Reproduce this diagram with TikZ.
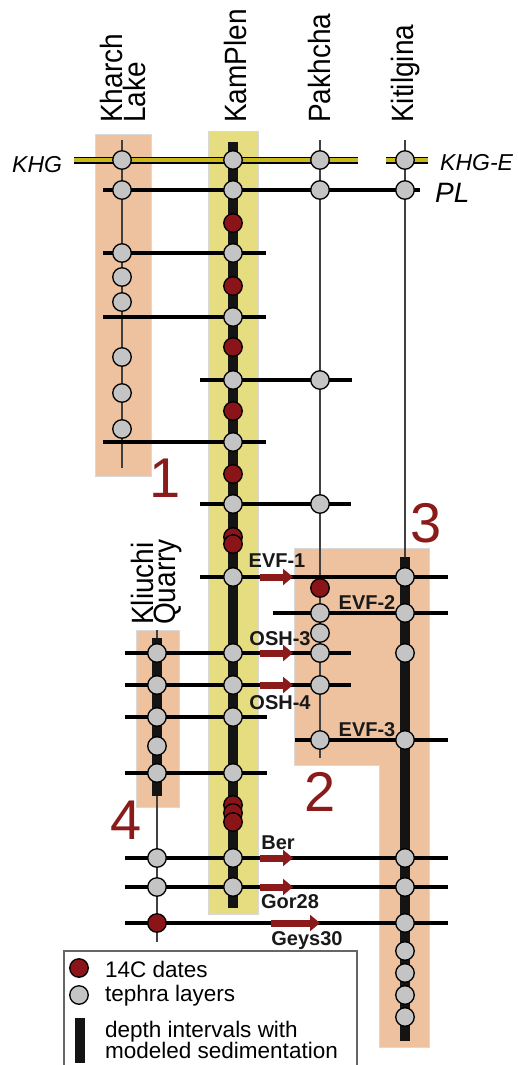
\documentclass[tikz,border=0pt]{standalone}
\usepackage{fontspec}
\setmainfont{Liberation Sans}
\usepackage{graphicx}
\usetikzlibrary{arrows.meta}
\definecolor{salmon}{HTML}{EEC29E}
\definecolor{ylw}{HTML}{E5DD80}
\definecolor{khgc}{HTML}{C9B81C}
\definecolor{dred}{HTML}{8B1418}
\definecolor{tgrey}{HTML}{C4C4C4}
\definecolor{nred}{HTML}{8B1A1A}
\begin{document}
\begin{tikzpicture}[x=1pt,y=-1pt,
  tephra/.style={circle,draw=black,line width=1.3pt,fill=tgrey,minimum size=18.5pt,inner sep=0pt},
  cdate/.style={tephra,fill=dred},
  hline/.style={line width=3.8pt,black},
  thinv/.style={line width=1.1pt,black!75},
  barv/.style={line width=10pt,black!92},
  regbox/.style={fill=salmon,draw=black!15,line width=0.8pt},
  ylwbox/.style={fill=ylw,draw=black!15,line width=0.8pt},
  corrarrow/.style={draw=nred,line width=7pt,-{Triangle[length=10pt,width=16pt]}},
  collabel/.style={rotate=90,anchor=base west,inner sep=0pt,font=\fontsize{28}{30}\selectfont},
  evlabel/.style={anchor=base,inner sep=0pt,font=\fontsize{20}{22}\selectfont\bfseries,text=black!90},
  regnum/.style={inner sep=0pt,text=nred,font=\fontsize{56}{58}\selectfont},
  leglabel/.style={anchor=base west,inner sep=0pt,font=\fontsize{22.5}{24}\selectfont},
  horlabel/.style={anchor=base west,inner sep=0pt,font=\fontsize{23}{25}\selectfont\itshape}
]
\useasboundingbox[fill=white] (0,0) rectangle (517,1065);

% ---------- background boxes ----------
\path[regbox] (95,134) rectangle (151,476);
\path[ylwbox] (208,131) rectangle (258,914);
\path[regbox] (136,630) rectangle (179,807);
\path[regbox] (294,548) -- (429,548) -- (429,1047) -- (379,1047) -- (379,765) -- (294,765) -- cycle;

% ---------- legend frame ----------
\draw[black!60,line width=1.2pt] (64,951) rectangle (357,1075);

% ---------- thin vertical lines ----------
\coordinate (khT) at (122,140); \coordinate (khB) at (122,468);
\coordinate (paT) at (320,140); \coordinate (paB) at (320,758);
\coordinate (kiT) at (405,140); \coordinate (kiM) at (405,557); \coordinate (kiB) at (405,1041);
\coordinate (klT) at (157,630); \coordinate (klM) at (157,638); \coordinate (klE) at (157,796); \coordinate (klB) at (157,942);
\coordinate (kpT) at (233,142); \coordinate (kpB) at (233,908);
\draw[thinv] (khT) -- (khB);
\draw[thinv] (paT) -- (paB);
\draw[thinv] (kiT) -- (kiM);
\draw[thinv] (klT) -- (klB);

% ---------- KHG marker horizon ----------
\coordinate (khgA) at (74,160); \coordinate (khgB) at (358,160);
\coordinate (khgC) at (386,160); \coordinate (khgD) at (428,160);
\draw[black,line width=7pt] (khgA) -- (khgB);
\draw[khgc,line width=3.4pt] (khgA) -- (khgB);
\draw[black,line width=7pt] (khgC) -- (khgD);
\draw[khgc,line width=3.4pt] (khgC) -- (khgD);

% ---------- horizontal tie lines ----------
\foreach \y/\a/\b in {190/103/420, 253/103/266, 317/103/266, 380/200/352, 442/103/266,
  504/200/351, 577/200/448, 613/273/448, 653/125/351, 685/125/351, 717/125/267,
  740/295/448, 773/125/267, 858/125/448, 887/125/448, 923/125/448}{
  \coordinate (h\y a) at (\a,\y); \coordinate (h\y b) at (\b,\y);
  \draw[hline] (h\y a) -- (h\y b);
}

% ---------- thick bars (modeled sedimentation) ----------
\draw[barv] (kpT) -- (kpB);
\draw[barv] (kiM) -- (kiB);
\draw[barv] (klM) -- (klE);

% ---------- correlation arrows ----------
\foreach \y in {577,653,685,858,887}{
  \coordinate (s\y a) at (260,\y); \coordinate (s\y b) at (293,\y);
  \draw[corrarrow] (s\y a) -- (s\y b);
}
\coordinate (g30a) at (271,923); \coordinate (g30b) at (320,923);
\draw[corrarrow] (g30a) -- (g30b);

% ---------- circles: tephra layers (grey) and 14C dates (red) ----------
\foreach \y [count=\i] in {160,190,253,277,302,357,393,429}
  \node[tephra] (kh\i) at (122,\y) {};
\foreach \y [count=\i] in {160,190,253,317,380,442,504,577,653,685,717,773,858,887}
  \node[tephra] (kp\i) at (233,\y) {};
\foreach \y [count=\i] in {223,286,347,411,474,537,544,805,813,822}
  \node[cdate] (kpd\i) at (233,\y) {};
\foreach \y [count=\i] in {160,190,380,504,613,633,653,685,740}
  \node[tephra] (pa\i) at (320,\y) {};
\node[cdate] (pad1) at (320,588) {};
\foreach \y [count=\i] in {160,190,577,613,653,740,858,887,923,951,973,995,1017}
  \node[tephra] (ki\i) at (405,\y) {};
\foreach \y [count=\i] in {653,685,717,746,773,858,887}
  \node[tephra] (kl\i) at (157,\y) {};
\node[cdate] (kld1) at (157,923) {};

% ---------- column titles ----------
\node[collabel] (tKh1) at (122,123) {\scalebox{1}[1.1]{Kharch}};
\node[collabel] (tKh2) at (145,123) {\scalebox{1}[1.1]{Lake}};
\node[collabel] (tKp) at (246,123) {\scalebox{1}[1.1]{KamPlen}};
\node[collabel] (tPa) at (330,123) {\scalebox{1}[1.1]{Pakhcha}};
\node[collabel] (tKi) at (413,123) {\scalebox{1}[1.1]{Kitilgina}};
\node[collabel] (tKl1) at (153,625) {\scalebox{1}[1.1]{Kliuchi}};
\node[collabel] (tKl2) at (175,625) {\scalebox{1}[1.1]{Quarry}};

% ---------- horizon labels ----------
\node[horlabel] (lKHG) at (12,172) {KHG};
\node[horlabel] (lKHGE) at (440,170) {KHG-E};
\node[horlabel,font=\fontsize{28}{30}\selectfont\itshape] (lPL) at (435,202) {PL};

% ---------- tephra names ----------
\node[evlabel] (lEVF1) at (277,567) {EVF-1};
\node[evlabel] (lEVF2) at (367,609) {EVF-2};
\node[evlabel] (lOSH3) at (280,645) {OSH-3};
\node[evlabel] (lOSH4) at (280,709) {OSH-4};
\node[evlabel] (lEVF3) at (367,736) {EVF-3};
\node[evlabel] (lBer) at (278,849) {Ber};
\node[evlabel] (lGor) at (290,908) {Gor28};
\node[evlabel] (lGeys) at (307,945) {Geys30};

% ---------- region numbers ----------
\node[regnum] (n1) at (165,478) {1};
\node[regnum] (n2) at (320,792) {2};
\node[regnum] (n3) at (426,523) {3};
\node[regnum] (n4) at (126,820) {4};

% ---------- legend ----------
\node[cdate] (legd) at (79,968) {};
\node[tephra] (legt) at (79,995) {};
\coordinate (legbT) at (80,1018); \coordinate (legbB) at (80,1063);
\draw[barv] (legbT) -- (legbB);
\node[leglabel] (lg1) at (105,977) {14C dates};
\node[leglabel] (lg2) at (105,1001) {tephra layers};
\node[leglabel] (lg3) at (105,1037) {depth intervals with};
\node[leglabel] (lg4) at (105,1058) {modeled sedimentation};
\end{tikzpicture}
\end{document}
